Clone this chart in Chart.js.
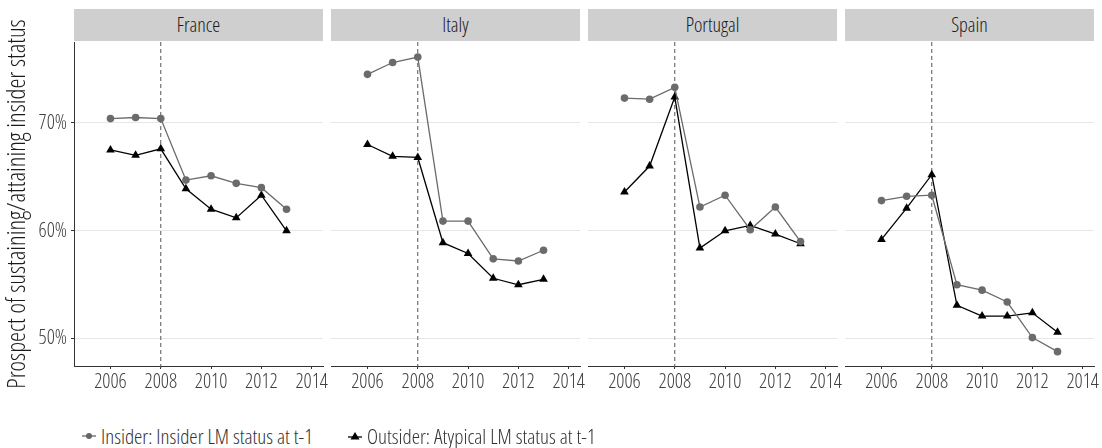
<!DOCTYPE html>
<html>
<head>
<meta charset="utf-8">
<script src="https://cdn.jsdelivr.net/npm/chart.js@4"></script>
<style>
  body { margin: 0; background: #fff; width: 1102px; height: 448px; position: relative; overflow: hidden;
         font-family: 'Open Sans', sans-serif; font-stretch: condensed; font-weight: 300; }
  .strip { position: absolute; top: 9px; height: 32px; background: #cfcfcf; color: #1a1a1a;
           font-size: 20px; line-height: 32px; text-align: center; }
  .panel { position: absolute; top: 0; }
  .legend { position: absolute; top: 424px; font-size: 21px; color: #333; display: flex; align-items: center; line-height: 24px; }
  .legend svg { margin-right: 4px; }
</style>
</head>
<body>
<div id="root"></div>
<div class="legend" style="left:81px">
  <svg width="16" height="12"><line x1="1" y1="6" x2="15" y2="6" stroke="#666" stroke-width="1.3"/><circle cx="8" cy="6" r="3" fill="#666"/></svg><span id="lab1"></span>
</div>
<div class="legend" style="left:347px">
  <svg width="16" height="12"><line x1="1" y1="7" x2="15" y2="7" stroke="#000" stroke-width="1.3"/><polygon points="8,2 12.5,9.5 3.5,9.5" fill="#000"/></svg><span id="lab2"></span>
</div>
<script>
const FONT = "'Open Sans', sans-serif";

const years = [2006, 2007, 2008, 2009, 2010, 2011, 2012, 2013];
const countries = ['France', 'Italy', 'Portugal', 'Spain'];

const insiderFrance   = [70.4, 70.5, 70.4, 64.7, 65.1, 64.4, 64.0, 62.0];
const outsiderFrance  = [67.5, 67.0, 67.6, 63.9, 62.0, 61.2, 63.3, 60.0];
const insiderItaly    = [74.5, 75.6, 76.1, 60.9, 60.9, 57.4, 57.2, 58.2];
const outsiderItaly   = [68.0, 66.9, 66.8, 58.9, 57.9, 55.6, 55.0, 55.5];
const insiderPortugal = [72.3, 72.2, 73.3, 62.2, 63.3, 60.1, 62.2, 59.0];
const outsiderPortugal= [63.6, 66.0, 72.4, 58.4, 60.0, 60.5, 59.7, 58.8];
const insiderSpain    = [62.8, 63.2, 63.3, 55.0, 54.5, 53.4, 50.1, 48.8];
const outsiderSpain   = [59.2, 62.1, 65.2, 53.1, 52.1, 52.1, 52.4, 50.6];

const insiderSeries  = [insiderFrance, insiderItaly, insiderPortugal, insiderSpain];
const outsiderSeries = [outsiderFrance, outsiderItaly, outsiderPortugal, outsiderSpain];

const yTicks = [50, 60, 70];
const xTicks = [2006, 2008, 2010, 2012, 2014];
const breakYear = 2008;

const yTitle = 'Prospect of sustaining/attaining insider status';
const insiderLabel = 'Insider: Insider LM status at t-1';
const outsiderLabel = 'Outsider: Atypical LM status at t-1';

document.getElementById('lab1').textContent = insiderLabel;
document.getElementById('lab2').textContent = outsiderLabel;

// panel geometry
const panelLeft = [74, 331, 588, 845];
const panelWidth = 249;
const axisW = 74;

Chart.defaults.font.family = FONT;
// chart.js puts weight in front of the size, so "condensed" ends up in the canvas font string
Chart.defaults.font.weight = '300 condensed';

// dashed line at the break year
const vline = {
  id: 'vline',
  beforeDatasetsDraw(chart) {
    const x = chart.scales.x.getPixelForValue(breakYear);
    const a = chart.chartArea;
    const ctx = chart.ctx;
    ctx.save();
    ctx.strokeStyle = '#555';
    ctx.lineWidth = 1;
    ctx.setLineDash([4, 3]);
    ctx.beginPath();
    ctx.moveTo(x, a.top);
    ctx.lineTo(x, a.bottom + 4);
    ctx.stroke();
    ctx.restore();
  }
};

const root = document.getElementById('root');

countries.forEach((name, i) => {
  let strip = document.createElement('div');
  strip.className = 'strip';
  strip.style.left = panelLeft[i] + 'px';
  strip.style.width = panelWidth + 'px';
  strip.textContent = name;
  root.appendChild(strip);

  let box = document.createElement('div');
  box.className = 'panel';
  box.style.left = (panelLeft[i] - axisW) + 'px';
  box.style.width = (axisW + panelWidth + 14) + 'px';
  box.style.height = '406px';
  let cv = document.createElement('canvas');
  box.appendChild(cv);
  root.appendChild(box);

  const first = i === 0;

  new Chart(cv, {
    type: 'line',
    data: {
      datasets: [{
        label: insiderLabel,
        data: years.map((yr, k) => ({ x: yr, y: insiderSeries[i][k] })),
        borderColor: '#6b6b6b',
        backgroundColor: '#6b6b6b',
        borderWidth: 1.3,
        pointStyle: 'circle',
        pointRadius: 3.8,
        pointBorderWidth: 0
      }, {
        label: outsiderLabel,
        data: years.map((yr, k) => ({ x: yr, y: outsiderSeries[i][k] })),
        borderColor: '#000',
        backgroundColor: '#000',
        borderWidth: 1.3,
        pointStyle: 'triangle',
        pointRadius: 5,
        pointBorderWidth: 0
      }]
    },
    options: {
      responsive: true,
      maintainAspectRatio: false,
      animation: false,
      layout: { padding: { top: 42, right: 14, bottom: 0, left: 0 } },
      plugins: { legend: { display: false }, tooltip: { enabled: false } },
      scales: {
        x: {
          type: 'linear',
          min: 2004.55,
          max: 2014.45,
          afterBuildTicks: s => { s.ticks = xTicks.map(v => ({ value: v })); },
          afterFit: s => { s.height = 40; },
          ticks: { color: '#404040', font: { size: 20 }, padding: 1, callback: v => String(v) },
          grid: { drawOnChartArea: false, drawTicks: true, tickLength: 3, tickColor: '#333' },
          border: { display: true, color: '#333', width: 1 }
        },
        y: {
          min: 47.47,
          max: 77.5,
          afterBuildTicks: s => { s.ticks = yTicks.map(v => ({ value: v })); },
          afterFit: s => { s.width = axisW; },
          ticks: { display: first, color: '#404040', font: { size: 20 }, padding: 4, callback: v => v + '%' },
          grid: { color: '#e6e6e6', lineWidth: 1, drawTicks: first, tickLength: 3, tickColor: '#333' },
          border: { display: first, color: '#333', width: 1 },
          title: { display: first, text: yTitle, color: '#1a1a1a', font: { size: 25 }, padding: { top: 3, bottom: 0 } }
        }
      }
    },
    plugins: [vline]
  });
});
</script>
</body>
</html>
